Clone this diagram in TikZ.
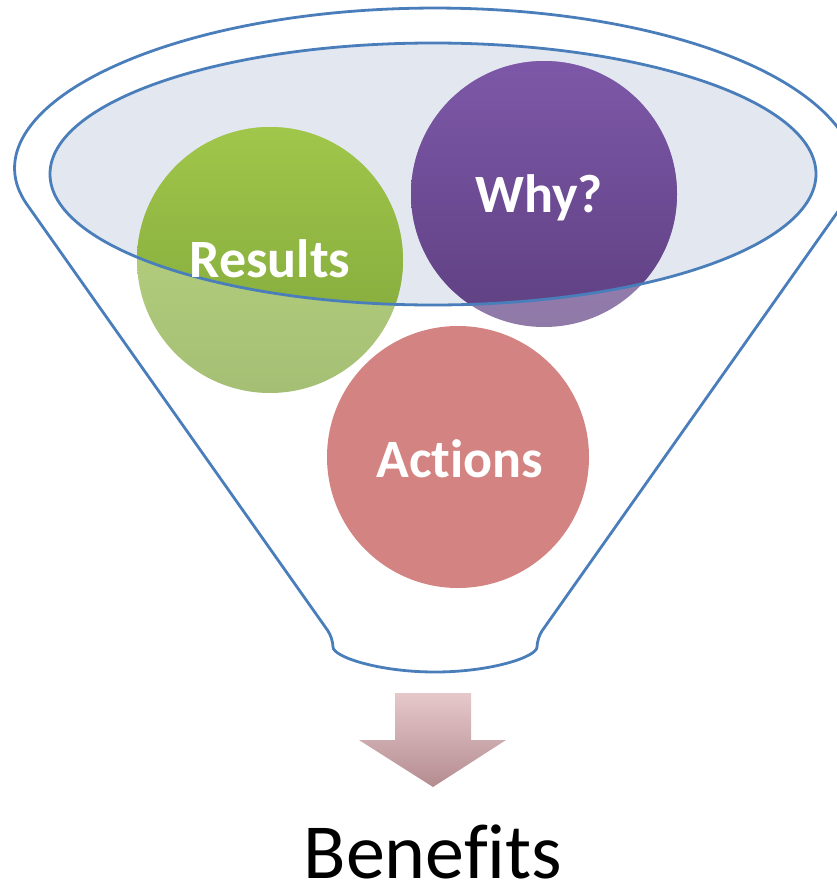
\documentclass[tikz,border=0pt]{standalone}
\usepackage{fontspec}
\setmainfont{Carlito}[Ligatures=NoCommon]
\usepackage{tikz}
\usetikzlibrary{shapes,arrows}
\definecolor{funnelblue}{HTML}{4A7EBB}
\definecolor{mouth}{HTML}{E2E7F0}
\definecolor{greentop}{HTML}{A0C64A}
\definecolor{greenbot}{HTML}{7EA43A}
\definecolor{purpletop}{HTML}{7D58A8}
\definecolor{purplebot}{HTML}{5F4082}
\definecolor{actred}{HTML}{C0504D}
\definecolor{arrowtop}{HTML}{E6C8CB}
\definecolor{arrowbot}{HTML}{B48C90}
\tikzset{x=1pt,y=-1pt,
  funnel/.style={draw=funnelblue,line width=2.8pt},
  ball/.style={fill opacity=0.7},
  word/.style={text=white,font=\fontsize{54}{60}\selectfont\bfseries,anchor=base},
  greenball/.style={top color=greentop,bottom color=greenbot},
  purpleball/.style={top color=purpletop,bottom color=purplebot}}

\begin{document}
\begin{tikzpicture}
    \useasboundingbox (0,0) rectangle (836,886);
    \coordinate (res) at (270,260);
    \coordinate (why) at (544,194);
    \coordinate (act) at (458,457);
    \draw[funnel,rounded corners=9pt] (21,196) arc[start angle=172,end angle=368,x radius=418,y radius=165]
      -- (537,638) arc[start angle=0,end angle=180,x radius=102,y radius=34] -- cycle;
    \fill[mouth] (433,174) ellipse[x radius=383,y radius=131];
    \shade[greenball,ball] (res) circle[radius=133];
    \shade[purpleball,ball] (why) circle[radius=133];
    \fill[actred,ball] (act) circle[radius=131];
    \begin{scope}
      \clip (433,174) ellipse[x radius=383,y radius=131];
      \shade[greenball] (res) circle[radius=133];
      \shade[purpleball] (why) circle[radius=133];
    \end{scope}
    \draw[funnel] (433,174) ellipse[x radius=383,y radius=131];
    \node[word] (results) at (270,277) {Results};
    \node[word] (whyq) at (539,212) {Why?};
    \node[word] (actions) at (460,477) {Actions};
    \shade[top color=arrowtop,bottom color=arrowbot]
      (395,693) -- (471,693) -- (471,740) -- (506,740) -- (433,787) -- (359,740) -- (395,740) -- cycle;
    \node[anchor=base,font=\fontsize{78}{90}\selectfont,inner sep=1pt] (benefits) at (433,878) {Benefits};
\end{tikzpicture}
\end{document}
